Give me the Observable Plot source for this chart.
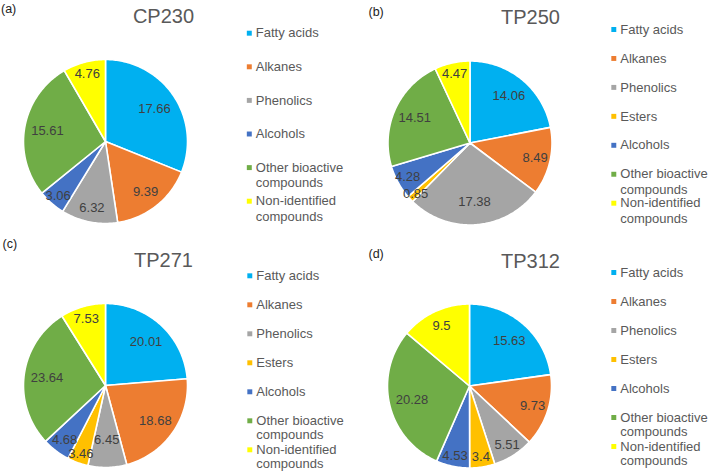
<!DOCTYPE html>
<html>
<head>
<meta charset="utf-8">
<script src="https://cdn.jsdelivr.net/npm/d3@7"></script>
<script src="https://cdn.jsdelivr.net/npm/@observablehq/plot@0.6"></script>
<style>
  html, body { margin: 0; padding: 0; background: #fff; }
</style>
</head>
<body>
<div id="chart"></div>
<script>
// ---- data ----
const categories = ["Fatty acids", "Alkanes", "Phenolics", "Esters", "Alcohols", "Other bioactive compounds", "Non-identified compounds"];
const legendLabels = ["Fatty acids", "Alkanes", "Phenolics", "Esters", "Alcohols", "Other bioactive\ncompounds", "Non-identified\ncompounds"];
const colors = ["#00B0F0", "#ED7D31", "#A5A5A5", "#FFC000", "#4472C4", "#70AD47", "#FFFF00"];
const samples = ["CP230", "TP250", "TP271", "TP312"];
const panelTags = ["(a)", "(b)", "(c)", "(d)"];
const cp230 = [17.66, 9.39, 6.32, null, 3.06, 15.61, 4.76];
const tp250 = [14.06, 8.49, 17.38, 0.85, 4.28, 14.51, 4.47];
const tp271 = [20.01, 18.68, 6.45, 3.46, 4.68, 23.64, 7.53];
const tp312 = [15.63, 9.73, 5.51, 3.4, 4.53, 20.28, 9.5];
const seriesValues = [cp230, tp250, tp271, tp312];

// ---- layout (pixel frame of the figure) ----
const W = 709, H = 472, R = 82, LABEL_FS = 13;
const layout = [
  {cx: 105,   cy: 141,   tagX: 0.5, tagY: 8,   titleX: 163, titleY: 16,   legX: 248.8, legY: 32.7,  legStep: 33.6, lineGap: 15.5},
  {cx: 469.5, cy: 142.5, tagX: 368, tagY: 11,  titleX: 530, titleY: 16.7, legX: 613.3, legY: 29,    legStep: 28.95, lineGap: 15.3},
  {cx: 105,   cy: 385,   tagX: 2,   tagY: 243, titleX: 163, titleY: 260,  legX: 249.3, legY: 275.3, legStep: 29,   lineGap: 13.8},
  {cx: 469,   cy: 385.5, tagX: 368, tagY: 253, titleX: 530, titleY: 261,  legX: 613.3, legY: 272,   legStep: 29,   lineGap: 14.4}
];

function textWidth(s) {
  let w = 0;
  for (const ch of s) w += (ch === "." ? 0.278 : 0.556);
  return w * LABEL_FS;
}
function boxAt(cx, cy, rr, am, w) {
  const x = cx + rr * Math.sin(am), y = cy - rr * Math.cos(am);
  return {x, y, x0: x - w / 2 - 2, x1: x + w / 2 + 2, y0: y - 7, y1: y + 7};
}
function overlaps(a, b) {
  return a.x0 < b.x1 && b.x0 < a.x1 && a.y0 < b.y1 && b.y0 < a.y1;
}

const slices = [], sliceLabels = [], legendMarks = [], legendLines = [], titles = [], tags = [];
seriesValues.forEach((vals, p) => {
  const L = layout[p];
  const items = categories.map((c, i) => ({category: c, value: vals[i], legend: legendLabels[i]}))
                          .filter(d => d.value != null);
  const total = d3.sum(items, d => d.value);
  let acc = 0;
  const pending = [];
  items.forEach((d, k) => {
    const a0 = acc / total * 2 * Math.PI;
    acc += d.value;
    const a1 = acc / total * 2 * Math.PI;
    const key = samples[p] + "|" + d.category;
    slices.push({key, category: d.category, x: L.cx, y: L.cy});
    const n = Math.max(2, Math.ceil((a1 - a0) / (Math.PI / 180)));
    for (let j = 0; j <= n; j++) {
      const a = a0 + (a1 - a0) * j / n;
      slices.push({key, category: d.category, x: L.cx + R * Math.sin(a), y: L.cy - R * Math.cos(a)});
    }
    const frac = d.value / total;
    const f = 0.72 + 0.2 * (1 - Math.min(1, frac / 0.25));
    pending.push({value: d.value, text: String(d.value), am: (a0 + a1) / 2, f});
    const rowY = L.legY + k * L.legStep;
    legendMarks.push({category: d.category, x: L.legX, y: rowY});
    d.legend.split("\n").forEach((line, li) => {
      legendLines.push({x: L.legX + 6.5, y: rowY + li * L.lineGap, text: line});
    });
  });
  // place labels: smallest slices first, later ones move inward if they collide
  const placed = [];
  pending.slice().sort((a, b) => a.value - b.value).forEach(lb => {
    const w = textWidth(lb.text);
    let best = null;
    for (let step = 0; step <= 40; step++) {
      const ff = lb.f - step * 0.01;
      const b = boxAt(L.cx, L.cy, R * ff, lb.am, w);
      if (!placed.some(o => overlaps(o, b))) { best = b; break; }
    }
    if (!best) best = boxAt(L.cx, L.cy, R * lb.f, lb.am, w);
    placed.push(best);
    sliceLabels.push({x: best.x, y: best.y, text: lb.text});
  });
  titles.push({x: L.titleX, y: L.titleY, text: samples[p]});
  tags.push({x: L.tagX, y: L.tagY, text: panelTags[p]});
});

const chart = Plot.plot({
  width: W,
  height: H,
  margin: 0,
  x: {domain: [0, W], axis: null},
  y: {domain: [0, H], reverse: true, axis: null},
  color: {domain: categories, range: colors},
  style: {fontFamily: "'Liberation Sans', Arial, sans-serif", background: "#fff"},
  marks: [
    Plot.line(slices, {x: "x", y: "y", z: "key", fill: "category", stroke: "#fff", strokeWidth: 1.6, strokeLinejoin: "round", curve: "linear-closed"}),
    Plot.text(sliceLabels, {x: "x", y: "y", text: "text", fontSize: LABEL_FS, fill: "#404040"}),
    Plot.dot(legendMarks, {x: "x", y: "y", fill: "category", symbol: "square", r: 2.8, stroke: null}),
    Plot.text(legendLines, {x: "x", y: "y", text: "text", textAnchor: "start", fontSize: 13, fill: "#595959"}),
    Plot.text(titles, {x: "x", y: "y", text: "text", fontSize: 20, fill: "#595959"}),
    Plot.text(tags, {x: "x", y: "y", text: "text", textAnchor: "start", fontSize: 12.5, fill: "#222"})
  ]
});
document.getElementById("chart").appendChild(chart);
</script>
</body>
</html>
